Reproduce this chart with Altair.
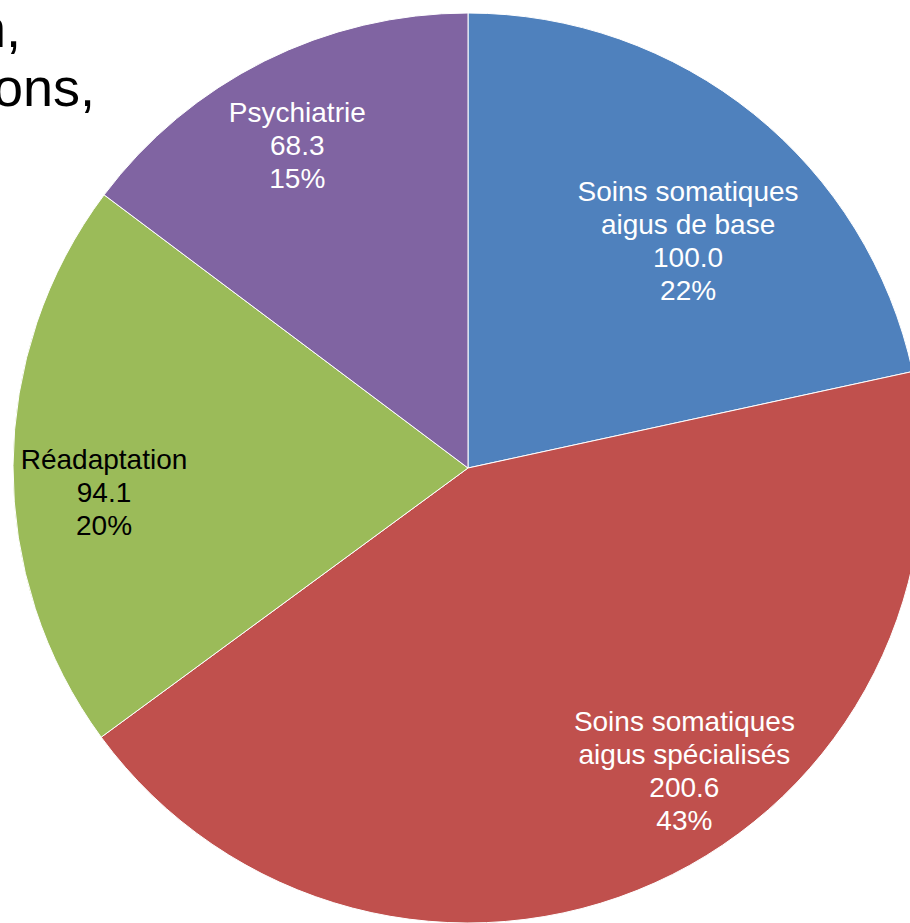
import math
import altair as alt
import pandas as pd

# ---- data ----
categories = [
    "Soins somatiques aigus de base",
    "Soins somatiques aigus spécialisés",
    "Réadaptation",
    "Psychiatrie",
]
label_names = [
    "Soins somatiques\naigus de base",
    "Soins somatiques\naigus spécialisés",
    "Réadaptation",
    "Psychiatrie",
]
values = [100.0, 200.6, 94.1, 68.3]
colors = ["#4F81BD", "#C0504D", "#9BBB59", "#8064A2"]
title_fragments = ["n,", "ons,"]

total = sum(values)
labels = [
    f"{n}\n{v:.1f}\n{round(v / total * 100):d}%" for n, v in zip(label_names, values)
]
df = pd.DataFrame(
    {"cat": categories, "value": values, "order": list(range(len(values))), "label": labels}
)

CX, CY, R = 468, 468, 455
FONT = "Liberation Sans"
LH = 33

theta_scale = alt.Scale(domain=[0, total], range=[0, 2 * math.pi])

base = alt.Chart(df).transform_window(
    cum="sum(value)", sort=[alt.SortField("order")], frame=[None, 0]
).transform_calculate(
    start="datum.cum - datum.value", mid="datum.cum - datum.value / 2"
)

arc = base.mark_arc(radius=R, stroke="white", strokeWidth=1).encode(
    theta=alt.Theta("start:Q", scale=theta_scale),
    theta2="cum:Q",
    color=alt.Color("cat:N", scale=alt.Scale(domain=categories, range=colors), legend=None),
    x=alt.value(CX),
    y=alt.value(CY),
)

# label placement (radius from centre, fine offsets) and text colour
placement = {
    categories[0]: dict(radius=314, dx=23, dy=19, color="white"),
    categories[1]: dict(radius=366, dx=66, dy=-29, color="white"),
    categories[2]: dict(radius=364, dx=0, dy=28, color="black"),
    categories[3]: dict(radius=364, dx=-8, dy=5, color="white"),
}

texts = []
for c, lab in zip(categories, labels):
    p = placement[c]
    n_lines = lab.count("\n") + 1
    texts.append(
        base.transform_filter(alt.datum.cat == c)
        .mark_text(
            radius=p["radius"],
            dx=p["dx"],
            dy=p["dy"] - (n_lines - 1) * LH / 2,
            color=p["color"],
            lineBreak="\n",
            lineHeight=LH,
            fontSize=28,
            font=FONT,
            align="center",
            baseline="middle",
        )
        .encode(
            theta=alt.Theta("mid:Q", scale=theta_scale),
            text="label:N",
            x=alt.value(CX),
            y=alt.value(CY),
        )
    )

title_df = pd.DataFrame({"t": title_fragments})
title_layers = [
    alt.Chart(title_df)
    .transform_filter(alt.datum.t == title_fragments[0])
    .mark_text(align="right", baseline="alphabetic", fontSize=54, font=FONT, color="black")
    .encode(text="t:N", x=alt.value(21), y=alt.value(47)),
    alt.Chart(title_df)
    .transform_filter(alt.datum.t == title_fragments[1])
    .mark_text(align="right", baseline="alphabetic", fontSize=54, font=FONT, color="black")
    .encode(text="t:N", x=alt.value(95), y=alt.value(106)),
]

chart = (
    alt.layer(arc, *texts, *title_layers)
    .properties(width=910, height=923, padding=0, autosize="none", background="white")
    .configure_view(stroke=None)
)

chart.save("out.html", embed_options={"renderer": "svg", "actions": False})
